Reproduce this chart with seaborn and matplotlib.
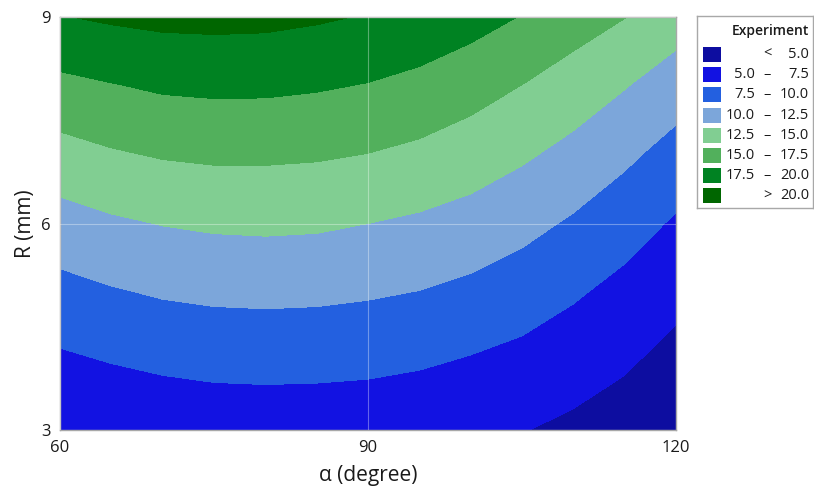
import matplotlib
matplotlib.use("Agg")
import matplotlib.pyplot as plt
from matplotlib.patches import Rectangle
import numpy as np
import seaborn as sns

# Grid of the fitted response (Experiment) over cone angle and radius
alpha_deg = [60, 65, 70, 75, 80, 85, 90, 95, 100, 105, 110, 115, 120]
radius_mm = [3, 4, 5, 6, 7, 8, 9]
experiment = [
    [5.20, 5.48, 5.76, 5.98, 6.04, 6.00, 5.89, 5.63, 5.32, 5.09, 4.50, 3.88, 3.06],
    [7.10, 7.57, 7.95, 8.18, 8.25, 8.20, 8.07, 7.78, 7.31, 6.81, 6.11, 5.29, 4.24],
    [9.21, 9.78, 10.23, 10.47, 10.55, 10.47, 10.25, 9.94, 9.40, 8.69, 7.78, 6.79, 5.69],
    [11.51, 12.14, 12.58, 12.85, 12.94, 12.84, 12.50, 12.11, 11.57, 10.72, 9.68, 8.51, 7.21],
    [14.07, 14.74, 15.18, 15.39, 15.38, 15.25, 14.95, 14.45, 13.73, 12.84, 11.76, 10.47, 9.07],
    [16.87, 17.37, 17.83, 17.98, 17.95, 17.73, 17.38, 16.83, 15.97, 14.96, 13.89, 12.62, 11.21],
    [19.90, 20.33, 20.62, 20.69, 20.61, 20.29, 19.86, 19.21, 18.43, 17.40, 16.09, 15.05, 13.68],
]

# Contour bands and their labels
breaks = [5.0, 7.5, 10.0, 12.5, 15.0, 17.5, 20.0]
band_colors = ["#0D0DA0", "#1212E2", "#2360E0", "#7CA6DA",
               "#81CE92", "#52B05C", "#008222", "#006600"]
x_ticks = [60, 90, 120]
y_ticks = [3, 6, 9]

sns.set_theme(style="white")
plt.rcParams["font.family"] = ["Open Sans", "DejaVu Sans"]

fig = plt.figure(figsize=(8.14, 4.88), dpi=100)
ax = fig.add_axes([60 / 814, 1 - 430 / 488, 616 / 814, 413 / 488])

X, Y = np.meshgrid(alpha_deg, radius_mm)
Z = np.array(experiment)
levels = [min(0.0, Z.min())] + breaks + [max(30.0, Z.max())]
ax.contourf(X, Y, Z, levels=levels, colors=band_colors)

ax.set_xlim(60, 120)
ax.set_ylim(3, 9)
ax.set_xticks(x_ticks)
ax.set_yticks(y_ticks)
ax.grid(True, color="white", alpha=0.35, linewidth=0.8)
ax.set_axisbelow(False)
for sp in ax.spines.values():
    sp.set_color("#A8A8A8")
    sp.set_linewidth(1.0)
    sp.set_visible(True)
ax.tick_params(axis="both", direction="out", length=5, width=1.0,
               color="#A8A8A8", labelsize=12, labelcolor="#1A1A1A", pad=2)
ax.set_xlabel("α (degree)", fontsize=15, color="#1A1A1A", labelpad=7)
ax.set_ylabel("R (mm)", fontsize=15, color="#1A1A1A", labelpad=3)

# Legend panel drawn as a table of swatches and range labels
lg = fig.add_axes([697 / 814, 1 - 208 / 488, 116 / 814, 192 / 488])
lg.set_xlim(697, 813)
lg.set_ylim(208, 16)
lg.set_xticks([])
lg.set_yticks([])
for sp in lg.spines.values():
    sp.set_color("#A8A8A8")
    sp.set_linewidth(1.0)
lg.set_facecolor("white")
lg.text(770, 31, "Experiment", ha="center", va="center",
        fontsize=10, fontweight="semibold", color="#1A1A1A")

lower = [None] + breaks
upper = breaks + [None]
for i, col in enumerate(band_colors):
    yc = 54.5 + i * 20.2
    lg.add_patch(Rectangle((703, yc - 7.5), 18, 15, facecolor=col, edgecolor="none"))
    kw = dict(va="center", fontsize=10.5, color="#1A1A1A")
    if lower[i] is None:
        lg.text(767, yc, "<", ha="center", **kw)
        lg.text(809, yc, f"{upper[i]:.1f}", ha="right", **kw)
    elif upper[i] is None:
        lg.text(767, yc, ">", ha="center", **kw)
        lg.text(809, yc, f"{lower[i]:.1f}", ha="right", **kw)
    else:
        lg.text(755, yc, f"{lower[i]:.1f}", ha="right", **kw)
        lg.text(767, yc, "–", ha="center", **kw)
        lg.text(809, yc, f"{upper[i]:.1f}", ha="right", **kw)

fig.savefig("out.png", dpi=100)
